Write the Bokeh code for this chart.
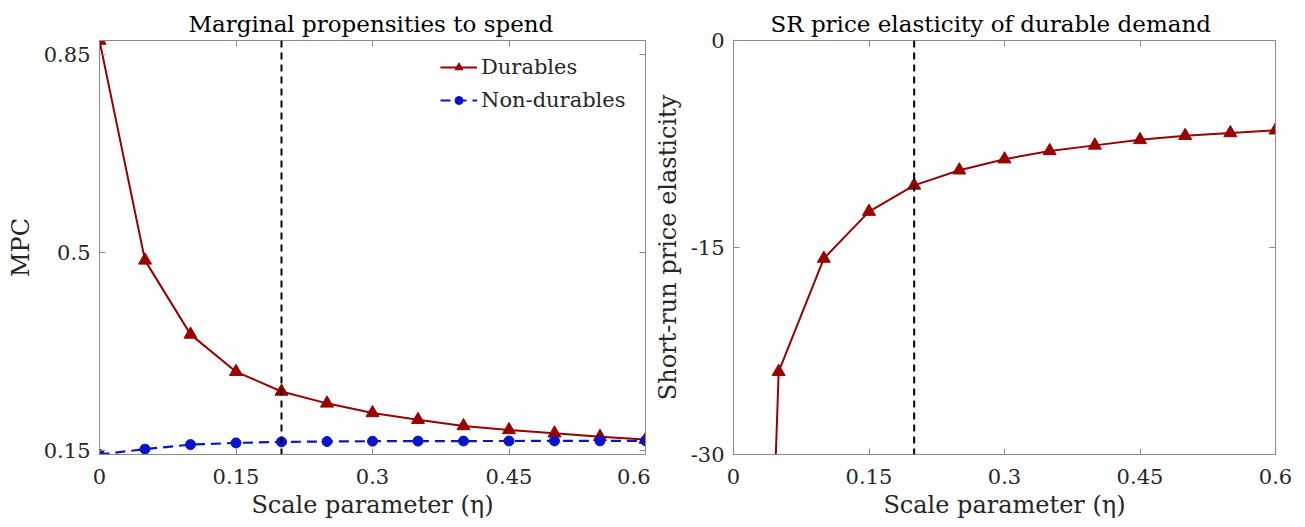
from bokeh.plotting import figure
from bokeh.layouts import row
from bokeh.models import Range1d, LinearAxis, FixedTicker, Span, Legend, LegendItem
from bokeh.embed import file_html
from bokeh.resources import INLINE

# ---------------- data ----------------
eta = [0.0, 0.05, 0.10, 0.15, 0.20, 0.25, 0.30, 0.35, 0.40, 0.45, 0.50, 0.55, 0.60]
mpc_durables = [0.875, 0.486, 0.355, 0.289, 0.254, 0.233, 0.216, 0.204, 0.193, 0.186, 0.180, 0.174, 0.169]
mpc_nondurables = [0.1425, 0.152, 0.160, 0.163, 0.1648, 0.1655, 0.166, 0.1662, 0.1663, 0.1664, 0.1665, 0.1666, 0.1667]
sr_elasticity = [-120.0, -24.0, -15.8, -12.4, -10.5, -9.4, -8.6, -8.0, -7.6, -7.2, -6.9, -6.7, -6.5]

eta_calibrated = 0.2

x_ticks = [0, 0.15, 0.3, 0.45, 0.6]
x_tick_labels = ["0", "0.15", "0.3", "0.45", "0.6"]
mpc_ticks = [0.15, 0.5, 0.85]
mpc_tick_labels = ["0.15", "0.5", "0.85"]
el_ticks = [-30, -15, 0]
el_tick_labels = ["-30", "-15", "0"]

titles = ["Marginal propensities to spend", "SR price elasticity of durable demand"]
x_label = "Scale parameter (\u03b7)"
y_labels = ["MPC", "Short-run price elasticity"]
series_names = ["Durables", "Non-durables"]

FONT = "DejaVu Serif"
RED = "#990000"
BLUE = "#0a14cc"
FRAME = "#8a8a8a"
TXT = "#262626"


def style(p, xt, xl, yt, yl, title_offset):
    p.title.text_font = FONT
    p.title.text_font_size = "23px"
    p.title.text_font_style = "normal"
    p.title.text_color = "black"
    p.title.align = "left"
    p.title.offset = title_offset
    p.title.standoff = 8
    p.outline_line_color = FRAME
    p.xgrid.visible = False
    p.ygrid.visible = False
    p.background_fill_color = "white"
    p.border_fill_color = "white"
    # main axes
    for ax, ticks, labels in ((p.xaxis[0], xt, xl), (p.yaxis[0], yt, yl)):
        ax.ticker = FixedTicker(ticks=ticks)
        ax.major_label_overrides = {t: s for t, s in zip(ticks, labels)}
        ax.major_label_text_font = FONT
        ax.major_label_text_font_size = "21px"
        ax.major_label_text_color = TXT
        ax.axis_label_text_font = FONT
        ax.axis_label_text_font_size = "24px"
        ax.axis_label_text_font_style = "normal"
        ax.axis_label_text_color = TXT
        ax.major_tick_in = 6
        ax.major_tick_out = 0
        ax.minor_tick_line_color = None
        ax.axis_line_color = FRAME
        ax.major_tick_line_color = FRAME
    p.xaxis[0].major_label_standoff = 14
    p.yaxis[0].major_label_standoff = 9
    p.xaxis[0].axis_label_standoff = 4
    p.yaxis[0].axis_label_standoff = 6
    # mirrored axes (ticks only, labels hidden)
    for side, ticks in (("above", xt), ("right", yt)):
        ax = LinearAxis(ticker=FixedTicker(ticks=ticks))
        ax.major_label_text_font_size = "1px"
        ax.major_label_text_alpha = 0
        ax.major_label_text_color = None
        ax.major_label_standoff = 0
        ax.major_tick_in = 6
        ax.major_tick_out = 0
        ax.minor_tick_line_color = None
        ax.axis_line_color = FRAME
        ax.major_tick_line_color = FRAME
        p.add_layout(ax, side)


# ---------------- left panel ----------------
p1 = figure(width=650, height=527, output_backend="svg", toolbar_location=None,
            title=titles[0],
            x_range=Range1d(min(eta), max(eta)),
            y_range=Range1d(min(mpc_nondurables), max(mpc_durables)),
            min_border_left=99, min_border_right=5, min_border_top=40, min_border_bottom=73,
            x_axis_label=x_label, y_axis_label=y_labels[0])
style(p1, x_ticks, x_tick_labels, mpc_ticks, mpc_tick_labels, 89)

p1.add_layout(Span(location=eta_calibrated, dimension="height", line_color="black",
                   line_width=2, line_dash="7 5"))

l1 = p1.line(eta, mpc_durables, line_color=RED, line_width=2)
m1 = p1.scatter(eta, mpc_durables, marker="triangle", size=13, fill_color=RED, line_color=RED)
l2 = p1.line(eta, mpc_nondurables, line_color=BLUE, line_width=2.2, line_dash="10 6")
m2 = p1.scatter(eta, mpc_nondurables, marker="circle", size=10, fill_color=BLUE, line_color=BLUE)

legend = Legend(items=[LegendItem(label=series_names[0], renderers=[l1, m1]),
                       LegendItem(label=series_names[1], renderers=[l2, m2])],
                location=(341, 342), label_text_font=FONT, label_text_font_size="21px",
                label_text_color=TXT, glyph_width=37, label_standoff=4, padding=5,
                spacing=9, margin=0, border_line_color=None, background_fill_alpha=0)
p1.add_layout(legend)

# ---------------- right panel ----------------
p2 = figure(width=655, height=527, output_backend="svg", toolbar_location=None,
            title=titles[1],
            x_range=Range1d(min(eta), max(eta)),
            y_range=Range1d(min(el_ticks), max(el_ticks)),
            min_border_left=81, min_border_right=30, min_border_top=40, min_border_bottom=73,
            x_axis_label=x_label, y_axis_label=y_labels[1])
style(p2, x_ticks, x_tick_labels, el_ticks, el_tick_labels, 37)

p2.add_layout(Span(location=eta_calibrated, dimension="height", line_color="black",
                   line_width=2, line_dash="7 5"))
p2.line(eta, sr_elasticity, line_color=RED, line_width=2)
p2.scatter(eta, sr_elasticity, marker="triangle", size=13, fill_color=RED, line_color=RED)

layout = row(p1, p2, spacing=0)
open("out.html", "w").write(file_html(layout, INLINE))
